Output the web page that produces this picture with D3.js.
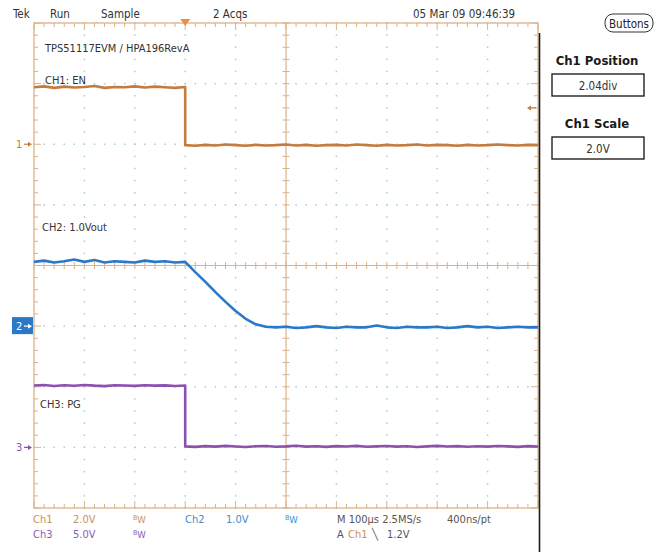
<!DOCTYPE html>
<html>
<head>
<meta charset="utf-8">
<script src="https://cdn.jsdelivr.net/npm/d3@7"></script>
<style>
  body { margin: 0; background: #fff; }
  text { font-family: "Liberation Sans Narrow", "DejaVu Sans Condensed", Arial, sans-serif; }
</style>
</head>
<body>
<script>
// time base (µs), trigger at 0, 100µs/div
var timeUs = [-300,-280,-260,-240,-220,-200,-180,-160,-140,-120,-100,-80,-60,-40,-20,0,
              0,20,40,60,80,100,120,140,160,180,200,220,240,260,280,300,320,340,360,380,
              400,420,440,460,480,500,520,540,560,580,600,620,640,660,680,700];

// CH1: EN (V)
var ch1Volts = [1.88,1.91,1.86,1.90,1.87,1.89,1.92,1.86,1.89,1.88,1.91,1.87,1.90,1.88,1.86,1.89,
                -0.03,-0.05,-0.02,-0.04,-0.01,-0.03,-0.05,-0.02,-0.04,-0.03,
                -0.01,-0.04,-0.02,-0.05,-0.03,-0.02,-0.04,-0.01,-0.03,-0.05,
                -0.02,-0.04,-0.03,-0.01,-0.04,-0.02,-0.03,-0.05,-0.02,-0.04,
                -0.03,-0.01,-0.03,-0.04,-0.02,-0.03];

// CH2: 1.0Vout (V)
var ch2Volts = [1.06,1.08,1.05,1.07,1.10,1.06,1.09,1.05,1.07,1.06,1.05,1.08,1.06,1.07,1.05,1.06,
                1.06,0.89,0.73,0.56,0.40,0.25,0.12,0.03,-0.01,
                -0.02,-0.01,-0.03,-0.02,0.00,-0.02,-0.03,-0.01,-0.02,-0.02,
                0.01,-0.02,-0.03,-0.01,-0.02,-0.02,-0.01,-0.03,-0.02,0.00,
                -0.02,-0.01,-0.03,-0.02,-0.01,-0.02,-0.02];

// CH3: PG (V)
var ch3Volts = [5.10,5.14,5.06,5.12,5.08,5.15,5.09,5.05,5.12,5.10,5.07,5.13,5.09,5.11,5.06,5.10,
                0.08,0.04,0.10,0.06,0.12,0.07,0.03,0.09,0.11,0.05,
                0.08,0.13,0.06,0.09,0.04,0.10,0.07,0.12,0.05,0.08,
                0.11,0.06,0.09,0.03,0.08,0.12,0.07,0.10,0.05,0.09,
                0.06,0.11,0.08,0.04,0.10,0.07];

// channel settings
var channels = [
  { name: "1", volts: ch1Volts, scale: 2.0, offset: 2.0,  color: "#c47c3e" },
  { name: "2", volts: ch2Volts, scale: 1.0, offset: -1.0, color: "#2a78c8" },
  { name: "3", volts: ch3Volts, scale: 5.0, offset: -3.0, color: "#8c50ae" }
];

var width = 659, height = 552;
var svg = d3.select("body").append("svg")
    .attr("width", width)
    .attr("height", height);

var x = d3.scaleLinear().domain([-300, 700]).range([34, 538]);
var yDiv = d3.scaleLinear().domain([-4, 4]).range([508, 23]);

var majorT = d3.range(-300, 701, 100);
var minorT = d3.range(-300, 701, 20);
var majorD = d3.range(-4, 4.01, 1);
var minorD = d3.range(-4, 4.01, 0.2);

var tan = "#dcb288", dot = "#a9cadb";

var grid = svg.append("g");

// dotted division lines
majorT.slice(1, -1).filter(function(t) { return t !== 200; }).forEach(function(t) {
  grid.selectAll(null).data(minorD).enter().append("rect")
      .attr("x", x(t) - 0.75).attr("y", function(d) { return yDiv(d) - 0.75; })
      .attr("width", 1.5).attr("height", 1.5).attr("fill", dot);
});
majorD.slice(1, -1).filter(function(d) { return d !== 0; }).forEach(function(dv) {
  grid.selectAll(null).data(minorT).enter().append("rect")
      .attr("x", function(t) { return x(t) - 0.75; }).attr("y", yDiv(dv) - 0.75)
      .attr("width", 1.5).attr("height", 1.5).attr("fill", dot);
});

// centre cross with ticks
grid.append("line").attr("x1", x(200)).attr("x2", x(200)).attr("y1", yDiv(4)).attr("y2", yDiv(-4))
    .attr("stroke", tan).attr("stroke-width", 1.2);
grid.append("line").attr("x1", x(-300)).attr("x2", x(700)).attr("y1", yDiv(0)).attr("y2", yDiv(0))
    .attr("stroke", tan).attr("stroke-width", 1.2);
grid.selectAll(null).data(minorT).enter().append("line")
    .attr("x1", function(t) { return x(t); }).attr("x2", function(t) { return x(t); })
    .attr("y1", yDiv(0) - 3.5).attr("y2", yDiv(0) + 3.5)
    .attr("stroke", tan).attr("stroke-width", 1);
grid.selectAll(null).data(minorD).enter().append("line")
    .attr("y1", function(d) { return yDiv(d); }).attr("y2", function(d) { return yDiv(d); })
    .attr("x1", x(200) - 3.5).attr("x2", x(200) + 3.5)
    .attr("stroke", tan).attr("stroke-width", 1);

// border with inward ticks
grid.append("rect").attr("x", x(-300)).attr("y", yDiv(4))
    .attr("width", x(700) - x(-300)).attr("height", yDiv(-4) - yDiv(4))
    .attr("fill", "none").attr("stroke", tan).attr("stroke-width", 1.3);
function tickLen(v, step) { return Math.abs(v / step - Math.round(v / step)) < 1e-6 ? 7 : 4; }
grid.selectAll(null).data(minorT).enter().append("line")
    .attr("x1", function(t) { return x(t); }).attr("x2", function(t) { return x(t); })
    .attr("y1", yDiv(4)).attr("y2", function(t) { return yDiv(4) + tickLen(t, 100); })
    .attr("stroke", tan);
grid.selectAll(null).data(minorT).enter().append("line")
    .attr("x1", function(t) { return x(t); }).attr("x2", function(t) { return x(t); })
    .attr("y1", yDiv(-4)).attr("y2", function(t) { return yDiv(-4) - tickLen(t, 100); })
    .attr("stroke", tan);
grid.selectAll(null).data(minorD).enter().append("line")
    .attr("y1", function(d) { return yDiv(d); }).attr("y2", function(d) { return yDiv(d); })
    .attr("x1", x(-300)).attr("x2", function(d) { return x(-300) + tickLen(d, 1); })
    .attr("stroke", tan);
grid.selectAll(null).data(minorD).enter().append("line")
    .attr("y1", function(d) { return yDiv(d); }).attr("y2", function(d) { return yDiv(d); })
    .attr("x1", x(700)).attr("x2", function(d) { return x(700) - tickLen(d, 1); })
    .attr("stroke", tan);

// traces
channels.forEach(function(ch) {
  var line = d3.line()
      .x(function(d, i) { return x(timeUs[i]); })
      .y(function(d) { return yDiv(ch.offset + d / ch.scale); });
  svg.append("path")
      .attr("d", line(ch.volts))
      .attr("fill", "none")
      .attr("stroke", ch.color)
      .attr("stroke-width", 2.6)
      .attr("stroke-linejoin", "round");
});

// trace labels
var labels = [
  { text: "TPS51117EVM / HPA196RevA", x: 45, y: 52 },
  { text: "CH1: EN", x: 45, y: 84 },
  { text: "CH2: 1.0Vout", x: 42, y: 231 },
  { text: "CH3: PG", x: 40, y: 408 }
];
svg.selectAll(".lbl").data(labels).enter().append("text")
    .attr("x", function(d) { return d.x; }).attr("y", function(d) { return d.y; })
    .attr("font-size", 11).attr("fill", "#333")
    .text(function(d) { return d.text; });

// ground markers
channels.forEach(function(ch) {
  var gy = yDiv(ch.offset);
  var g = svg.append("g");
  var fg = ch.color;
  if (ch.name === "2") {
    g.append("rect").attr("x", 12).attr("y", gy - 9).attr("width", 21).attr("height", 17).attr("fill", ch.color);
    fg = "#fff";
  }
  g.append("text").attr("x", 16).attr("y", gy + 4).attr("font-size", 11).attr("fill", fg).text(ch.name);
  g.append("line").attr("x1", 24).attr("x2", 30).attr("y1", gy).attr("y2", gy).attr("stroke", fg).attr("stroke-width", 1.2);
  g.append("path").attr("d", "M" + 28 + "," + (gy - 2.5) + "L" + 32 + "," + gy + "L" + 28 + "," + (gy + 2.5) + "Z").attr("fill", fg);
});

// trigger position and level markers
svg.append("path").attr("d", "M" + (x(0) - 5) + ",19L" + (x(0) + 5) + ",19L" + x(0) + ",26Z").attr("fill", "#ec8e45");
var trigY = yDiv(channels[0].offset + 1.2 / channels[0].scale);
svg.append("line").attr("x1", 529).attr("x2", 536).attr("y1", trigY).attr("y2", trigY).attr("stroke", "#c47c3e").attr("stroke-width", 1.3);
svg.append("path").attr("d", "M527," + trigY + "L531," + (trigY - 2.5) + "L531," + (trigY + 2.5) + "Z").attr("fill", "#c47c3e");

// header
var header = [
  { text: "Tek", x: 13 }, { text: "Run", x: 50 }, { text: "Sample", x: 101 },
  { text: "2 Acqs", x: 213 }, { text: "05 Mar 09 09:46:39", x: 413 }
];
svg.selectAll(".hdr").data(header).enter().append("text")
    .attr("x", function(d) { return d.x; }).attr("y", 18)
    .attr("font-size", 11.5).attr("fill", "#333")
    .text(function(d) { return d.text; });

// right panel
svg.append("line").attr("x1", 539.5).attr("x2", 539.5).attr("y1", 33).attr("y2", 552)
    .attr("stroke", "#1a1a1a").attr("stroke-width", 1.6);
svg.append("rect").attr("x", 605).attr("y", 14).attr("width", 48).attr("height", 18).attr("rx", 8)
    .attr("fill", "none").attr("stroke", "#333").attr("stroke-width", 1);
svg.append("text").attr("x", 629).attr("y", 28).attr("text-anchor", "middle")
    .attr("font-size", 11.5).attr("fill", "#222").text("Buttons");

var panel = [
  { title: "Ch1 Position", value: "2.04div", ty: 65, by: 74 },
  { title: "Ch1 Scale", value: "2.0V", ty: 128, by: 137 }
];
panel.forEach(function(p) {
  svg.append("text").attr("x", 597).attr("y", p.ty).attr("text-anchor", "middle")
      .attr("font-size", 13).attr("font-weight", "bold").attr("fill", "#1a1a1a").text(p.title);
  svg.append("rect").attr("x", 552).attr("y", p.by).attr("width", 92).attr("height", 22)
      .attr("fill", "#fff").attr("stroke", "#222").attr("stroke-width", 1.4);
  svg.append("text").attr("x", 598).attr("y", p.by + 16).attr("text-anchor", "middle")
      .attr("font-size", 11.5).attr("fill", "#333").text(p.value);
});

// status lines
var orange = "#c8925e", blue = "#3a8fd0", purple = "#8a5cb8", grey = "#555";
var statusItems = [
  { text: "Ch1", x: 33, y: 523, c: orange }, { text: "2.0V", x: 73, y: 523, c: orange },
  { text: "Ch2", x: 185, y: 523, c: blue }, { text: "1.0V", x: 226, y: 523, c: blue },
  { text: "M 100µs 2.5MS/s", x: 337, y: 523, c: grey }, { text: "400ns/pt", x: 447, y: 523, c: grey },
  { text: "Ch3", x: 33, y: 538, c: purple }, { text: "5.0V", x: 73, y: 538, c: purple },
  { text: "A", x: 337, y: 538, c: grey }, { text: "Ch1", x: 348, y: 538, c: orange },
  { text: "\u2572", x: 372, y: 538, c: grey }, { text: "1.2V", x: 387, y: 538, c: grey }
];
svg.selectAll(".st").data(statusItems).enter().append("text")
    .attr("x", function(d) { return d.x; }).attr("y", function(d) { return d.y; })
    .attr("font-size", 11).attr("fill", function(d) { return d.c; })
    .text(function(d) { return d.text; });

var bw = [ { x: 133, y: 523, c: orange }, { x: 285, y: 523, c: blue }, { x: 133, y: 538, c: purple } ];
bw.forEach(function(b) {
  var t = svg.append("text").attr("x", b.x).attr("y", b.y).attr("fill", b.c);
  t.append("tspan").attr("font-size", 7).attr("dy", -3).text("B");
  t.append("tspan").attr("font-size", 9.5).attr("dy", 3).text("W");
});
</script>
</body>
</html>
